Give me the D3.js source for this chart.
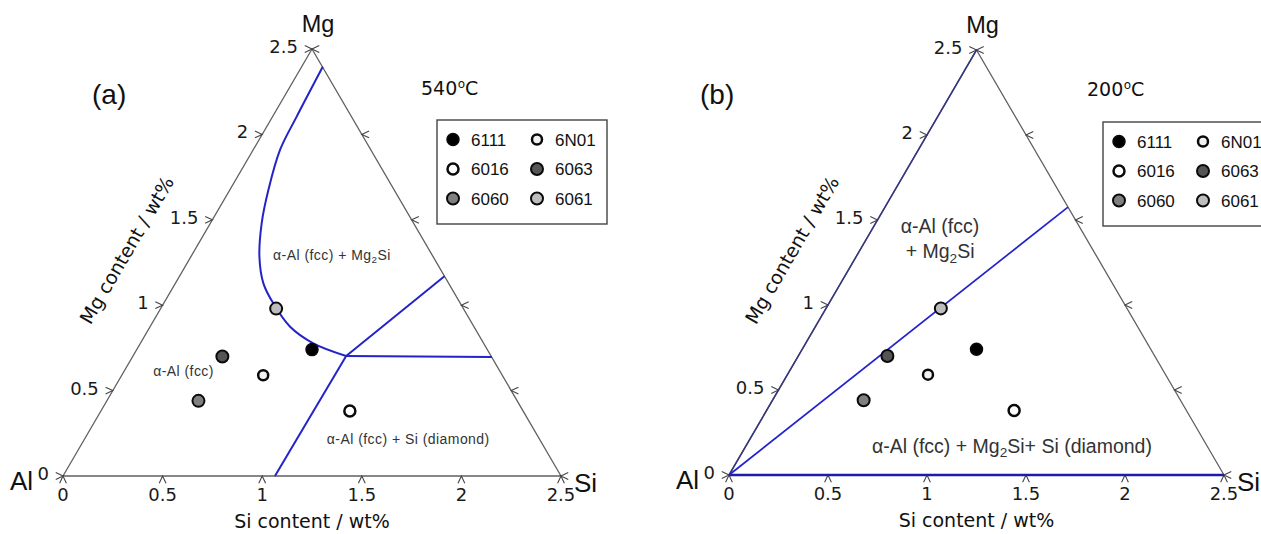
<!DOCTYPE html>
<html>
<head>
<meta charset="utf-8">
<script src="https://cdn.jsdelivr.net/npm/d3@7"></script>
<style>
  body { margin: 0; background: #fff; }
  svg { display: block; }
  .edge { fill: none; stroke: #606060; stroke-width: 1.3; }
  .tick { fill: none; stroke: #444; stroke-width: 1.1; }
  .ticklabel { font-family: "DejaVu Sans", sans-serif; font-size: 18px; fill: #1a1a1a; }
  .axistitle { font-family: "DejaVu Sans", sans-serif; font-size: 19px; fill: #111; }
  .corner { font-family: "Liberation Sans", Arial, sans-serif; fill: #111; }
  .temp { font-family: "DejaVu Sans", sans-serif; font-size: 19px; fill: #111; }
  .phase { font-family: "Liberation Sans", Arial, sans-serif; fill: #333; }
  .legend text { font-family: "Liberation Sans", Arial, sans-serif; font-size: 17px; fill: #111; }
</style>
</head>
<body>
<svg id="chart" width="1261" height="534"></svg>
<script>
// alloy compositions, wt%
var alloys = ["6111", "6016", "6060", "6N01", "6063", "6061"];
var siContent = [0.88, 1.25, 0.46, 0.71, 0.45, 0.58];
var mgContent = [0.74, 0.38, 0.44, 0.59, 0.70, 0.98];
var legendOrder = ["6111", "6N01", "6016", "6063", "6060", "6061"];

var tickValues = [0, 0.5, 1, 1.5, 2, 2.5];
var tickLabels = ["0", "0.5", "1", "1.5", "2", "2.5"];

// phase boundaries at 540 C, [Si, Mg] in wt%
var mg2siSolvus540 = [[0.106, 2.396], [0.121, 2.104], [0.135, 1.909], [0.194, 1.674],
                      [0.257, 1.481], [0.344, 1.284], [0.442, 1.128], [0.550, 1.011],
                      [0.703, 0.874], [0.868, 0.777], [1.07, 0.703]];
var siSolvus540 = [[1.07, 0.703], [1.064, 0]];
var tieUpper540 = [[1.07, 0.703], [1.33, 1.17]];
var tieLower540 = [[1.07, 0.703], [1.805, 0.697]];

// phase boundaries at 200 C
var mg2siLine200 = [[0, 0], [0.924, 1.576]];
var alMgEdge200 = [[0, 0], [0, 2.5]];
var alSiEdge200 = [[0, 0], [2.5, 0]];

var markerStyle = {
  "6111": {fill: "#000", r: 6, sw: 1.5},
  "6N01": {fill: "#f2f2f2", r: 5, sw: 2.5},
  "6016": {fill: "#fff", r: 5.5, sw: 2.5},
  "6063": {fill: "#555", r: 6, sw: 2},
  "6060": {fill: "#808080", r: 6, sw: 2},
  "6061": {fill: "#bdbdbd", r: 6, sw: 2}
};

var panels = [
  {
    tag: "(a)", tagX: 92, temp: "540",
    x0: 63, y0: 476, w: 498, h: 427, legendDy: 0,
    lines: [
      {pts: mg2siSolvus540, color: "#2323c8", width: 2, curve: true},
      {pts: siSolvus540, color: "#2323c8", width: 2},
      {pts: tieUpper540, color: "#2323c8", width: 2},
      {pts: tieLower540, color: "#2323c8", width: 2}
    ],
    labels: [
      {text: "α-Al (fcc) + Mg₂Si", at: [0.422, 1.265], size: 14, anchor: "start"},
      {text: "α-Al (fcc)", at: [0.161, 0.583], size: 14, anchor: "start"},
      {text: "α-Al (fcc) + Si (diamond)", at: [1.231, 0.187], size: 14, anchor: "start"}
    ]
  },
  {
    tag: "(b)", tagX: 700, temp: "200",
    x0: 729, y0: 475, w: 495, h: 425, legendDy: 2,
    lines: [
      {pts: alMgEdge200, color: "#363680", width: 1.5},
      {pts: alSiEdge200, color: "#1c1ca6", width: 2.6},
      {pts: mg2siLine200, color: "#2323cc", width: 1.7}
    ],
    labels: [
      {text: "α-Al (fcc)", at: [0.354, 1.424], size: 19.5, anchor: "middle"},
      {text: "+ Mg₂Si", at: [0.428, 1.276], size: 19.5, anchor: "middle"},
      {text: "α-Al (fcc) + Mg₂Si+ Si (diamond)", at: [1.363, 0.132], size: 19.5, anchor: "middle"}
    ]
  }
];

var svg = d3.select("#chart");

// write a string with "₂" as a real subscript
function richText(sel, str, size) {
  var parts = str.split("₂");
  parts.forEach(function(part, i) {
    sel.append("tspan").attr("dy", i === 0 ? 0 : -size * 0.25).text(part);
    if (i < parts.length - 1) {
      sel.append("tspan")
        .attr("font-size", size * 0.7)
        .attr("dy", size * 0.25)
        .text("2");
    }
  });
}

function chevron(pt, dx, dy) {
  var L = 8, a = Math.PI * 25 / 180;
  var c = Math.cos(a), s = Math.sin(a);
  var ax = dx * c - dy * s, ay = dx * s + dy * c;
  var bx = dx * c + dy * s, by = -dx * s + dy * c;
  return "M" + (pt[0] + L * ax) + "," + (pt[1] + L * ay) +
         "L" + pt[0] + "," + pt[1] +
         "L" + (pt[0] + L * bx) + "," + (pt[1] + L * by);
}

function drawPanel(p) {
  var g = svg.append("g");
  var sx = d3.scaleLinear().domain([0, 2.5]).range([p.x0, p.x0 + p.w]);
  var sy = d3.scaleLinear().domain([0, 2.5]).range([p.y0, p.y0 - p.h]);
  function proj(si, mg) { return [sx(si + mg / 2), sy(mg)]; }

  var line = d3.line()
    .x(function(d) { return proj(d[0], d[1])[0]; })
    .y(function(d) { return proj(d[0], d[1])[1]; });

  // triangle
  g.append("path")
    .attr("class", "edge")
    .attr("d", line([[0, 0], [2.5, 0], [0, 2.5]]) + "Z");

  // ticks on the three edges
  tickValues.forEach(function(v, i) {
    var left = proj(0, v), bottom = proj(v, 0), right = proj(2.5 - v, v);
    g.append("path").attr("class", "tick").attr("d", chevron(left, -1, 0));
    g.append("path").attr("class", "tick").attr("d", chevron(bottom, 0, 1));
    g.append("path").attr("class", "tick").attr("d", chevron(right, 1, 0));

    g.append("text").attr("class", "ticklabel")
      .attr("x", left[0] - 14).attr("y", left[1] + 4)
      .attr("text-anchor", "end")
      .text(tickLabels[i]);
    g.append("text").attr("class", "ticklabel")
      .attr("x", bottom[0]).attr("y", bottom[1] + 24.5)
      .attr("text-anchor", "middle")
      .text(tickLabels[i]);
  });

  // phase boundaries
  p.lines.forEach(function(l) {
    var path = l.curve ? line.curve(d3.curveCatmullRom.alpha(0.5)) : line.curve(d3.curveLinear);
    g.append("path")
      .attr("d", path(l.pts))
      .attr("fill", "none")
      .attr("stroke", l.color)
      .attr("stroke-width", l.width);
  });
  line.curve(d3.curveLinear);

  // phase region labels
  p.labels.forEach(function(lb) {
    var pt = proj(lb.at[0], lb.at[1]);
    var t = g.append("text").attr("class", "phase")
      .attr("x", pt[0]).attr("y", pt[1])
      .attr("font-size", lb.size)
      .attr("letter-spacing", lb.size < 16 ? 0.45 : 0)
      .attr("text-anchor", lb.anchor);
    richText(t, lb.text, lb.size);
  });

  // alloy points
  alloys.forEach(function(name, i) {
    var pt = proj(siContent[i], mgContent[i]);
    var st = markerStyle[name];
    g.append("circle")
      .attr("cx", pt[0]).attr("cy", pt[1]).attr("r", st.r)
      .attr("fill", st.fill).attr("stroke", "#0a0a0a").attr("stroke-width", st.sw);
  });

  // corner labels
  var top = proj(0, 2.5), al = proj(0, 0), si = proj(2.5, 0);
  g.append("text").attr("class", "corner").attr("font-size", 23.5)
    .attr("x", top[0] + 6).attr("y", top[1] - 17).attr("text-anchor", "middle").text("Mg");
  g.append("text").attr("class", "corner").attr("font-size", 26)
    .attr("x", al[0] - 30).attr("y", al[1] + 14).attr("text-anchor", "end").text("Al");
  g.append("text").attr("class", "corner").attr("font-size", 26)
    .attr("x", si[0] + 13).attr("y", si[1] + 16).attr("text-anchor", "start").text("Si");

  // axis titles
  g.append("text").attr("class", "axistitle")
    .attr("x", p.x0 + p.w / 2).attr("y", p.y0 + 52)
    .attr("text-anchor", "middle")
    .text("Si content / wt%");

  var len = Math.sqrt(p.h * p.h + p.w * p.w / 4);
  var nx = -p.h / len, ny = -p.w / 2 / len;
  var mid = proj(0, 1.15);
  var angle = Math.atan2(-p.h, p.w / 2) * 180 / Math.PI;
  var tx = mid[0] + 52 * nx, ty = mid[1] + 52 * ny;
  g.append("text").attr("class", "axistitle")
    .attr("text-anchor", "middle")
    .attr("transform", "translate(" + tx + "," + ty + ") rotate(" + angle + ")")
    .text("Mg content / wt%");

  // panel tag and temperature
  g.append("text").attr("class", "corner").attr("font-size", 28)
    .attr("x", p.tagX).attr("y", 104).text(p.tag);

  var temp = g.append("text").attr("class", "temp")
    .attr("x", p.x0 + 358).attr("y", 95 + p.legendDy / 2);
  temp.append("tspan").text(p.temp);
  temp.append("tspan").attr("font-size", 12).attr("dy", -7).attr("dx", 0.5).text("o");
  temp.append("tspan").attr("dy", 7).text("C");

  // legend
  var lg = g.append("g").attr("class", "legend")
    .attr("transform", "translate(" + (p.x0 + 374) + "," + (120 + p.legendDy) + ")");
  lg.append("rect")
    .attr("width", 170).attr("height", 104)
    .attr("fill", "#fff").attr("stroke", "#444").attr("stroke-width", 1.4);
  legendOrder.forEach(function(name, i) {
    var col = i % 2, row = Math.floor(i / 2);
    var cx = 16 + col * 84, cy = 19.5 + row * 29.5;
    var st = markerStyle[name];
    lg.append("circle")
      .attr("cx", cx).attr("cy", cy).attr("r", st.r)
      .attr("fill", st.fill).attr("stroke", "#0a0a0a").attr("stroke-width", st.sw);
    lg.append("text").attr("x", cx + 18).attr("y", cy + 6).text(name);
  });
}

panels.forEach(drawPanel);
</script>
</body>
</html>
